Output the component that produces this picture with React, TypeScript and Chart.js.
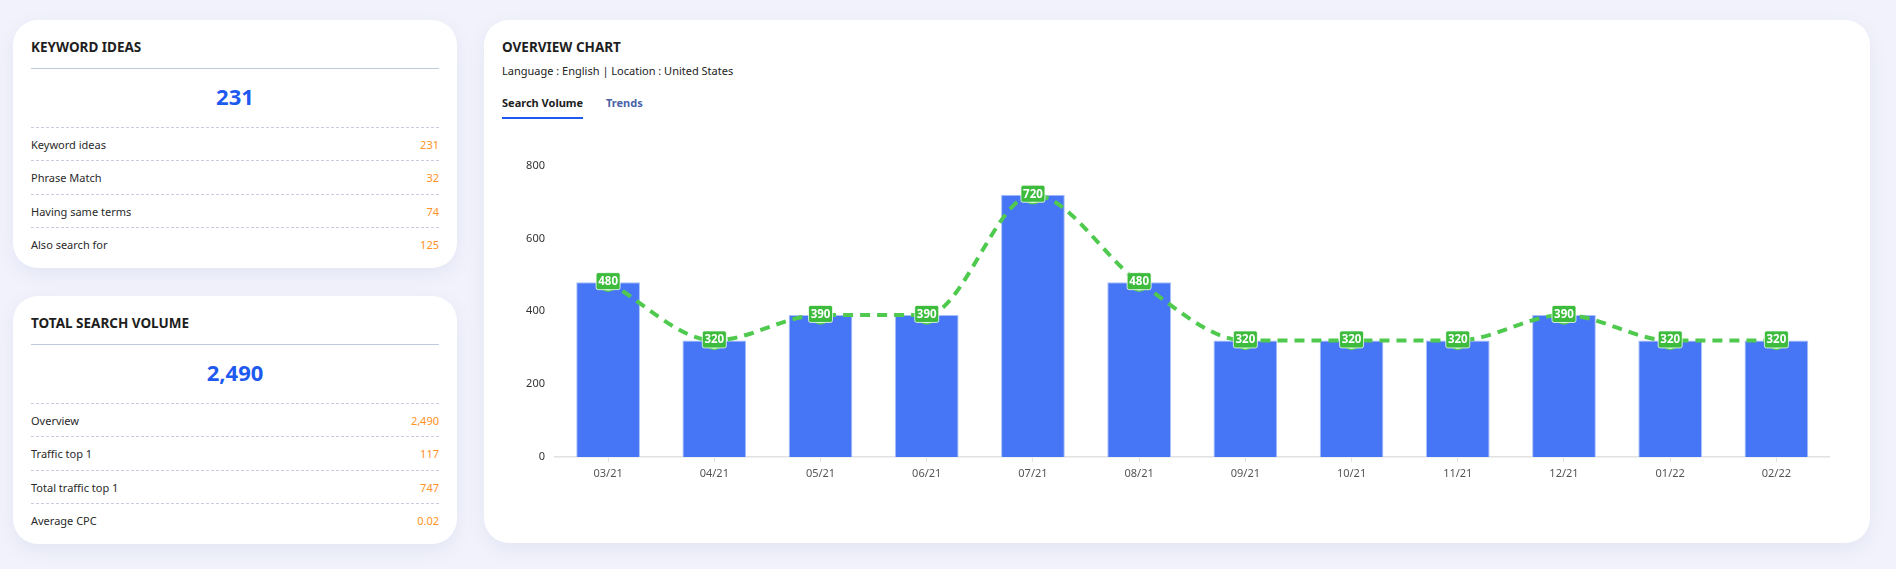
import React, { useEffect, useRef } from "react";
import { Chart, registerables } from "chart.js";

Chart.register(...registerables);

const months = ["03/21", "04/21", "05/21", "06/21", "07/21", "08/21", "09/21", "10/21", "11/21", "12/21", "01/22", "02/22"];
const volumes = [480, 320, 390, 390, 720, 480, 320, 320, 320, 390, 320, 320];
const trendLine = [480, 320, 390, 390, 720, 480, 320, 320, 320, 390, 320, 320];
const yTicks = [0, 200, 400, 600, 800];

const keywordRows = [
  ["Keyword ideas", "231"],
  ["Phrase Match", "32"],
  ["Having same terms", "74"],
  ["Also search for", "125"],
];
const volumeRows = [
  ["Overview", "2,490"],
  ["Traffic top 1", "117"],
  ["Total traffic top 1", "747"],
  ["Average CPC", "0.02"],
];

const FONT = "'Noto Sans', 'Open Sans', sans-serif";
const BAR = "#4676f5";
const GREEN_LINE = "#4fca4f";
const GREEN_LABEL = "#3dbb3d";

const labelPlugin = {
  id: "pointLabels",
  afterDatasetsDraw(chart: any) {
    const meta = chart.getDatasetMeta(0);
    const ds = chart.data.datasets[0];
    const ctx = chart.ctx;
    ctx.save();
    meta.data.forEach((pt: any, i: number) => {
      const x = pt.x;
      const y = pt.y;
      const w = 24;
      const h = 17;
      ctx.beginPath();
      (ctx as any).roundRect(x - w / 2, y - h / 2 - 1, w, h, 2);
      ctx.fillStyle = GREEN_LABEL;
      ctx.fill();
      ctx.lineWidth = 1;
      ctx.strokeStyle = "rgba(255,255,255,0.75)";
      ctx.stroke();
      ctx.fillStyle = "#ffffff";
      ctx.font = `bold 11.5px ${FONT}`;
      ctx.textAlign = "center";
      ctx.textBaseline = "middle";
      ctx.fillText(String(ds.data[i]), x, y - 0.5);
    });
    ctx.restore();
  },
};

function StatCard({ top, title, big, rows }: { top: number; title: string; big: string; rows: string[][] }) {
  const abs = (t: number, extra: any = {}) => ({ position: "absolute" as const, top: t, ...extra });
  return (
    <div
      style={{
        position: "absolute",
        left: 13,
        top,
        width: 444,
        height: 248,
        background: "#fff",
        borderRadius: 25,
        boxShadow: "0 6px 18px rgba(120,130,190,0.10)",
      }}
    >
      <div style={abs(27 - 10, { left: 18, height: 20, lineHeight: "20px", fontSize: 13.5, fontWeight: 700, color: "#1e1e1e" })}>{title}</div>
      <div style={abs(48, { left: 18, width: 408, height: 0, borderTop: "1px solid #c3c9dc" })} />
      <div style={abs(76 - 16, { left: 0, width: 444, textAlign: "center", height: 32, lineHeight: "32px", fontSize: 22, fontWeight: 700, color: "#1f5af0" })}>{big}</div>
      {rows.map((r, i) => (
        <React.Fragment key={i}>
          <div style={abs(107 + i * 33.3, { left: 18, width: 408, height: 0, borderTop: "1px dashed #c8cde2" })} />
          <div style={abs(125 + i * 33.3 - 9, { left: 18, height: 18, lineHeight: "18px", fontSize: 11, color: "#2a2a2a" })}>{r[0]}</div>
          <div style={abs(125 + i * 33.3 - 9, { right: 18, height: 18, lineHeight: "18px", fontSize: 11, color: "#ff9226", textAlign: "right" })}>{r[1]}</div>
        </React.Fragment>
      ))}
    </div>
  );
}

export default function App() {
  const canvasRef = useRef<HTMLCanvasElement | null>(null);

  useEffect(() => {
    if (!canvasRef.current) return;
    Chart.defaults.font.family = FONT;
    const chart = new Chart(canvasRef.current, {
      type: "bar",
      data: {
        labels: months,
        datasets: [
          {
            type: "line" as const,
            label: "Trend",
            data: trendLine,
            order: 0,
            borderColor: GREEN_LINE,
            borderWidth: 4,
            borderDash: [10, 7],
            cubicInterpolationMode: "monotone" as const,
            pointRadius: 9,
            pointBackgroundColor: "#ffffff",
            pointBorderColor: GREEN_LINE,
            pointBorderWidth: 1.5,
            fill: false,
          } as any,
          {
            type: "bar" as const,
            label: "Search Volume",
            data: volumes,
            order: 1,
            backgroundColor: BAR,
            borderColor: "#a9c0fa",
            borderWidth: { top: 1, left: 1, right: 1, bottom: 0 },
            borderSkipped: false,
            barPercentage: 0.75,
            categoryPercentage: 0.8,
          } as any,
        ],
      },
      options: {
        animation: false,
        responsive: false,
        maintainAspectRatio: false,
        layout: { padding: { top: 5, right: 4, left: 0, bottom: 0 } },
        plugins: { legend: { display: false }, tooltip: { enabled: false } },
        scales: {
          x: {
            offset: true,
            grid: { display: true, drawOnChartArea: false, drawTicks: true, tickLength: 5, offset: false, color: "#e2e2e2" },
            border: { display: true, color: "#e2e2e2", width: 1.5 },
            ticks: { color: "#555", font: { size: 11, family: FONT }, padding: 5 },
            afterFit: (s: any) => {
              s.height = 40;
            },
          },
          y: {
            min: 0,
            max: 800,
            afterBuildTicks: (s: any) => {
              s.ticks = yTicks.map((v) => ({ value: v }));
            },
            grid: { display: false, drawTicks: false },
            border: { display: false },
            ticks: { color: "#333", font: { size: 11, family: FONT }, padding: 10 },
            afterFit: (s: any) => {
              s.width = 50;
            },
          },
        },
      } as any,
      plugins: [labelPlugin],
    });
    return () => chart.destroy();
  }, []);

  return (
    <div
      style={{
        position: "fixed",
        left: 0,
        top: 0,
        width: 1896,
        height: 569,
        background: "#f1f2fb",
        fontFamily: FONT,
        overflow: "hidden",
      }}
    >
      <StatCard top={20} title="KEYWORD IDEAS" big="231" rows={keywordRows} />
      <StatCard top={296} title="TOTAL SEARCH VOLUME" big="2,490" rows={volumeRows} />
      <div
        style={{
          position: "absolute",
          left: 484,
          top: 20,
          width: 1386,
          height: 523,
          background: "#fff",
          borderRadius: 25,
          boxShadow: "0 6px 18px rgba(120,130,190,0.10)",
        }}
      >
        <div style={{ position: "absolute", left: 18, top: 17, height: 20, lineHeight: "20px", fontSize: 13.5, fontWeight: 700, color: "#1e1e1e" }}>OVERVIEW CHART</div>
        <div style={{ position: "absolute", left: 18, top: 42, height: 18, lineHeight: "18px", fontSize: 11, color: "#222" }}>Language : English | Location : United States</div>
        <div style={{ position: "absolute", left: 18, top: 74, height: 18, lineHeight: "18px", fontSize: 11, fontWeight: 700, color: "#1e1e1e" }}>Search Volume</div>
        <div style={{ position: "absolute", left: 18, top: 97, width: 81, height: 2, background: "#1f5af0" }} />
        <div style={{ position: "absolute", left: 122, top: 74, height: 18, lineHeight: "18px", fontSize: 11, fontWeight: 700, color: "#4a63a8" }}>Trends</div>
      </div>
      <canvas
        ref={canvasRef}
        width={1335}
        height={348}
        style={{ position: "absolute", left: 505, top: 149, width: 1335, height: 348 }}
      />
    </div>
  );
}
